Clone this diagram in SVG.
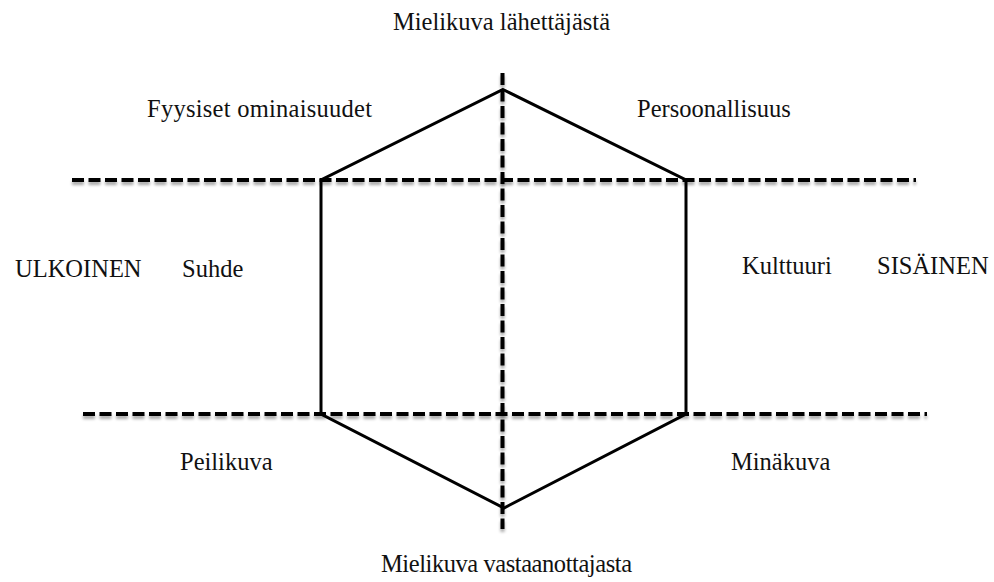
<svg xmlns="http://www.w3.org/2000/svg" width="994" height="582" viewBox="0 0 994 582">
  <style>
    .axis { fill: none; stroke: #000; stroke-width: 4; stroke-dasharray: 12 4.5; filter: url(#soft); }
    .prism { fill: none; stroke: #000; stroke-width: 3; stroke-linejoin: miter; }
    .lbl { font-family: "Liberation Serif", "Times New Roman", serif; font-size: 24.5px; fill: #111; }
  </style>
  <defs>
    <filter id="soft" filterUnits="userSpaceOnUse" x="0" y="0" width="994" height="582">
      <feGaussianBlur in="SourceAlpha" stdDeviation="1.5"/>
      <feOffset dy="3" result="sh"/>
      <feComponentTransfer in="sh" result="shf">
        <feFuncA type="linear" slope="0.35"/>
      </feComponentTransfer>
      <feMerge>
        <feMergeNode in="shf"/>
        <feMergeNode in="SourceGraphic"/>
      </feMerge>
    </filter>
  </defs>
  <rect width="994" height="582" fill="#fff"/>

  <!-- dashed reference axes -->
  <g id="connectors">
    <line class="axis" x1="72" y1="180" x2="916" y2="180"/>
    <line class="axis" x1="83" y1="414" x2="927" y2="414"/>
    <line class="axis" x1="502.5" y1="73" x2="502.5" y2="529"/>
  </g>

  <!-- identity prism -->
  <g id="prism">
    <polygon class="prism" points="503,89.5 686,180 686,414 504,508 321,414 321,180"/>
  </g>

  <g id="sender"><text class="lbl" x="393" y="30">Mielikuva lähettäjästä</text></g>
  <g id="physique"><text class="lbl" x="147" y="117" textLength="225">Fyysiset ominaisuudet</text></g>
  <g id="personality"><text class="lbl" x="637" y="117">Persoonallisuus</text></g>
  <g id="external"><text class="lbl" x="15" y="277">ULKOINEN</text></g>
  <g id="relationship"><text class="lbl" x="182" y="277">Suhde</text></g>
  <g id="culture"><text class="lbl" x="742" y="274">Kulttuuri</text></g>
  <g id="internal"><text class="lbl" x="877" y="274">SISÄINEN</text></g>
  <g id="reflection"><text class="lbl" x="180" y="470">Peilikuva</text></g>
  <g id="selfimage"><text class="lbl" x="731" y="470">Minäkuva</text></g>
  <g id="recipient"><text class="lbl" x="381" y="572" textLength="251">Mielikuva vastaanottajasta</text></g>
</svg>
